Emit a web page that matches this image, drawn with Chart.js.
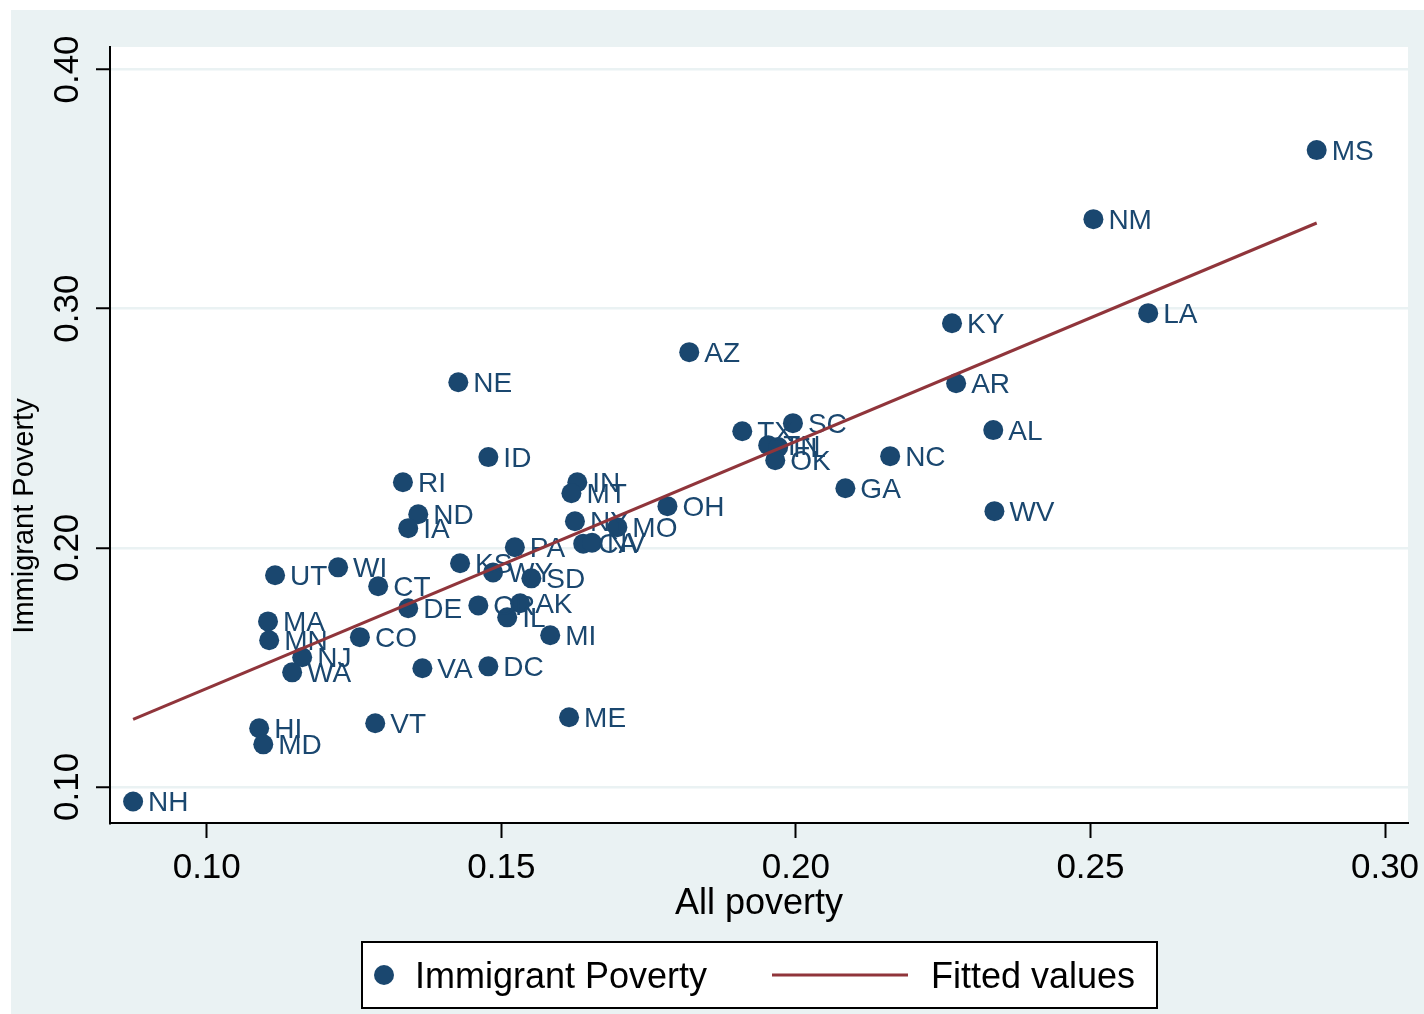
<!DOCTYPE html>
<html>
<head>
<meta charset="utf-8">
<title>Immigrant Poverty vs All poverty</title>
<script src="https://cdn.jsdelivr.net/npm/chart.js@4/dist/chart.umd.min.js"></script>
<style>
  html, body { margin: 0; padding: 0; background: #ffffff; }
  #wrap { width: 1424px; height: 1014px; }
</style>
</head>
<body>
<div id="wrap"><canvas id="c" width="1424" height="1014"></canvas></div>
<script>
// State-level poverty rates
const states = ['MS','NM','LA','KY','AR','AL','WV','NC','GA','AZ','NE','ID','RI','ND','IA',
  'TX','SC','TN','FL','OK','IN','MT','NY','MO','OH','CA','NV','PA','KS','WY','SD','DE','OR',
  'AK','IL','MI','UT','WI','CT','MA','MN','NJ','WA','CO','VA','DC','HI','MD','VT','ME','NH'];
const allPoverty = [0.2884,0.2505,0.2598,0.2265,0.2272,0.2335,0.2337,0.2160,0.2084,0.1819,0.1427,0.1478,0.1333,0.1359,0.1342,
  0.1909,0.1995,0.1953,0.1970,0.1965,0.1629,0.1619,0.1625,0.1697,0.1782,0.1639,0.1654,0.1523,0.1430,0.1486,0.1551,0.1342,0.1461,
  0.1532,0.1510,0.1583,0.1116,0.1223,0.1291,0.1104,0.1106,0.1162,0.1145,0.1260,0.1366,0.1478,0.1089,0.1096,0.1286,0.1615,0.0875];
const immigrantPoverty = [0.3663,0.3374,0.2981,0.2939,0.2688,0.2492,0.2153,0.2383,0.2249,0.2818,0.2692,0.2379,0.2274,0.2140,0.2082,
  0.2487,0.2521,0.2429,0.2421,0.2366,0.2274,0.2228,0.2111,0.2086,0.2174,0.2017,0.2021,0.2002,0.1935,0.1897,0.1872,0.1747,0.1759,
  0.1768,0.1709,0.1634,0.1885,0.1918,0.1839,0.1692,0.1613,0.1542,0.1479,0.1626,0.1496,0.1504,0.1245,0.1178,0.1266,0.1291,0.0939];

// Linear fit, drawn across the range of all poverty
const fitX = [0.0875, 0.2884];
const fitY = [0.1282, 0.3358];

const xTicks = [0.10, 0.15, 0.20, 0.25, 0.30];
const yTicks = [0.10, 0.20, 0.30, 0.40];
const xTitle = 'All poverty';
const yTitle = 'Immigrant Poverty';
const seriesNames = ['Immigrant Poverty', 'Fitted values'];

const NAVY = '#1a476f';
const MAROON = '#90353b';
const REGION = '#eaf2f3';
const FONT = '"Liberation Sans", Arial, Helvetica, sans-serif';

const scatterPts = states.map((s, i) => ({ x: allPoverty[i], y: immigrantPoverty[i] }));
const fitPts = fitX.map((x, i) => ({ x: x, y: fitY[i] }));

const backdrop = {
  id: 'backdrop',
  beforeDraw(chart) {
    const { ctx, chartArea: a } = chart;
    ctx.save();
    ctx.fillStyle = REGION;
    ctx.fillRect(11, 10, chart.width - 11, chart.height - 10);
    ctx.fillStyle = '#ffffff';
    ctx.fillRect(a.left, a.top, a.right - a.left, a.bottom - a.top);
    ctx.restore();
  }
};

const markerLabels = {
  id: 'markerLabels',
  afterDatasetDraw(chart, args) {
    if (args.index !== 0) return;
    const ctx = chart.ctx;
    const meta = chart.getDatasetMeta(0);
    ctx.save();
    ctx.font = '28px ' + FONT;
    ctx.fillStyle = NAVY;
    ctx.textAlign = 'left';
    ctx.textBaseline = 'middle';
    meta.data.forEach((pt, i) => {
      ctx.fillText(states[i], pt.x + 15, pt.y + 2);
    });
    ctx.restore();
  }
};

const annotations = {
  id: 'annotations',
  afterDraw(chart) {
    const ctx = chart.ctx;
    const xs = chart.scales.x, ys = chart.scales.y;
    const a = chart.chartArea;
    ctx.save();
    ctx.fillStyle = '#000000';
    // x tick labels
    ctx.font = '35px ' + FONT;
    ctx.textAlign = 'center';
    ctx.textBaseline = 'middle';
    xTicks.forEach(v => {
      ctx.fillText(v.toFixed(2), xs.getPixelForValue(v), a.bottom + 45);
    });
    // y tick labels, rotated
    yTicks.forEach(v => {
      ctx.save();
      ctx.translate(68, ys.getPixelForValue(v));
      ctx.rotate(-Math.PI / 2);
      ctx.fillText(v.toFixed(2), 0, 0);
      ctx.restore();
    });
    // axis titles
    ctx.font = '36px ' + FONT;
    ctx.fillText(xTitle, (a.left + a.right) / 2, a.bottom + 81);
    ctx.save();
    ctx.font = '29px ' + FONT;
    ctx.translate(25, 516);
    ctx.rotate(-Math.PI / 2);
    ctx.fillText(yTitle, 0, 0);
    ctx.restore();

    // legend box
    const lx = 362, ly = 942, lw = 795, lh = 66, cy = ly + lh / 2;
    ctx.fillStyle = '#ffffff';
    ctx.fillRect(lx, ly, lw, lh);
    ctx.strokeStyle = '#000000';
    ctx.lineWidth = 2;
    ctx.strokeRect(lx, ly, lw, lh);
    ctx.fillStyle = NAVY;
    ctx.beginPath();
    ctx.arc(384, cy, 10, 0, Math.PI * 2);
    ctx.fill();
    ctx.strokeStyle = MAROON;
    ctx.lineWidth = 3;
    ctx.beginPath();
    ctx.moveTo(772, cy);
    ctx.lineTo(908, cy);
    ctx.stroke();
    ctx.fillStyle = '#000000';
    ctx.font = '36px ' + FONT;
    ctx.textAlign = 'left';
    ctx.fillText(seriesNames[0], 415, cy + 3);
    ctx.fillText(seriesNames[1], 931, cy + 3);
    ctx.restore();
  }
};

new Chart(document.getElementById('c'), {
  type: 'scatter',
  data: {
    datasets: [
      {
        label: seriesNames[0],
        data: scatterPts,
        order: 1,
        pointRadius: 10,
        pointHoverRadius: 10,
        pointBackgroundColor: NAVY,
        pointBorderColor: NAVY,
        pointBorderWidth: 0,
        showLine: false
      },
      {
        label: seriesNames[1],
        data: fitPts,
        order: 0,
        showLine: true,
        borderColor: MAROON,
        borderWidth: 3,
        pointRadius: 0,
        fill: false
      }
    ]
  },
  options: {
    responsive: false,
    animation: false,
    devicePixelRatio: 1,
    events: [],
    layout: { padding: { left: 0, top: 47, right: 16, bottom: 0 } },
    plugins: { legend: { display: false }, tooltip: { enabled: false } },
    scales: {
      x: {
        type: 'linear',
        min: 0.08358,
        max: 0.3039,
        afterFit: s => { s.height = 191; },
        afterBuildTicks: s => { s.ticks = xTicks.map(v => ({ value: v })); },
        ticks: { display: false },
        grid: { drawOnChartArea: false, drawTicks: true, tickLength: 15, tickColor: '#000000', tickWidth: 2 },
        border: { display: true, color: '#000000', width: 2 }
      },
      y: {
        type: 'linear',
        min: 0.0849,
        max: 0.4094,
        afterFit: s => { s.width = 110; },
        afterBuildTicks: s => { s.ticks = yTicks.map(v => ({ value: v })); },
        ticks: { display: false },
        grid: { color: REGION, lineWidth: 2.5, drawTicks: true, tickLength: 14, tickColor: '#000000', tickWidth: 2 },
        border: { display: true, color: '#000000', width: 2 }
      }
    }
  },
  plugins: [backdrop, markerLabels, annotations]
});
</script>
</body>
</html>
